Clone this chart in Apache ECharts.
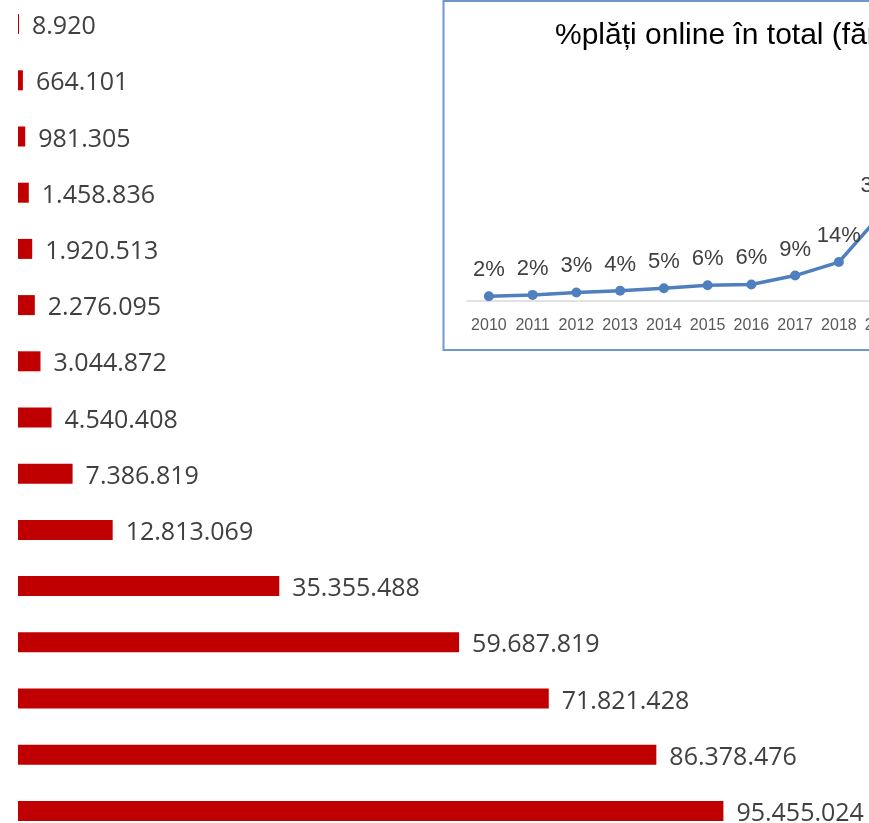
<!DOCTYPE html>
<html>
<head>
<meta charset="utf-8">
<script src="https://cdn.jsdelivr.net/npm/echarts@6/dist/echarts.min.js"></script>
<style>
  html, body { margin: 0; padding: 0; background: #fff; }
  #chart { width: 869px; height: 823px; }
</style>
</head>
<body>
<div id="chart"></div>
<script>
// bara orizontala - numar plati (categoriile nu apar in imagine)
const barCategories = ['2005','2006','2007','2008','2009','2010','2011','2012','2013','2014','2015','2016','2017','2018','2019']
const barValues = [8920, 664101, 981305, 1458836, 1920513, 2276095, 3044872, 4540408, 7386819, 12813069, 35355488, 59687819, 71821428, 86378476, 95455024]

// graficul mic - % plati online
const lineYears = ['2010','2011','2012','2013','2014','2015','2016','2017','2018','2019']
const lineValues = [1.6, 2.1, 3.0, 3.6, 4.5, 5.6, 5.9, 9.1, 14.0, 32]
const insetTitle = '%plăți online în total (fără numerar)'

function formatRo (v) {
  return String(v).replace(/\B(?=(\d{3})+(?!\d))/g, '.')
}

const chart = echarts.init(document.getElementById('chart'))
const option = {
  backgroundColor: '#fff',
  animation: false,
  title: {
    text: insetTitle,
    left: 555,
    top: 21,
    padding: 0,
    textStyle: {
      fontFamily: 'Liberation Sans, Arial, sans-serif',
      fontSize: 30,
      fontWeight: 'normal',
      color: '#000'
    }
  },
  graphic: [{
    type: 'rect',
    z: -1,
    shape: { x: 443.5, y: 1, width: 520, height: 349 },
    style: { fill: '#fff', stroke: '#7396c9', lineWidth: 2 }
  }],
  grid: [
    { left: 18, top: -4, width: 739, height: 843, outerBoundsMode: 'none' },
    { left: 467, top: 190.3, width: 437.5, height: 110.4, outerBoundsMode: 'none' }
  ],
  xAxis: [
    {
      gridIndex: 0,
      type: 'value',
      min: 0,
      max: 100000000,
      show: false
    },
    {
      gridIndex: 1,
      type: 'category',
      data: lineYears,
      boundaryGap: true,
      axisLine: { lineStyle: { color: '#d9d9d9', width: 1.5 } },
      axisTick: { show: false },
      axisLabel: {
        interval: 0,
        margin: 17,
        fontFamily: 'Liberation Sans, Arial, sans-serif',
        fontSize: 16,
        color: '#595959'
      }
    }
  ],
  yAxis: [
    {
      gridIndex: 0,
      type: 'category',
      data: barCategories,
      inverse: true,
      show: false
    },
    {
      gridIndex: 1,
      type: 'value',
      min: 0,
      max: 40,
      show: false
    }
  ],
  series: [
    {
      type: 'bar',
      xAxisIndex: 0,
      yAxisIndex: 0,
      data: barValues,
      barWidth: 20,
      barMinHeight: 1,
      itemStyle: { color: '#c00000' },
      label: {
        show: true,
        position: 'right',
        distance: 13,
        offset: [0, 3],
        fontFamily: 'Open Sans, Noto Sans, sans-serif',
        fontSize: 25,
        color: '#404040',
        formatter: (p) => formatRo(p.value)
      }
    },
    {
      type: 'line',
      xAxisIndex: 1,
      yAxisIndex: 1,
      data: lineValues,
      clip: false,
      symbol: 'circle',
      symbolSize: 10,
      lineStyle: { color: '#4f7fbf', width: 3.5 },
      itemStyle: { color: '#4f7fbf' },
      label: {
        show: true,
        position: 'top',
        distance: 10,
        fontFamily: 'Liberation Sans, Arial, sans-serif',
        fontSize: 22,
        color: '#404040',
        formatter: (p) => Math.round(p.value) + '%'
      }
    }
  ]
}
chart.setOption(option)
</script>
</body>
</html>
